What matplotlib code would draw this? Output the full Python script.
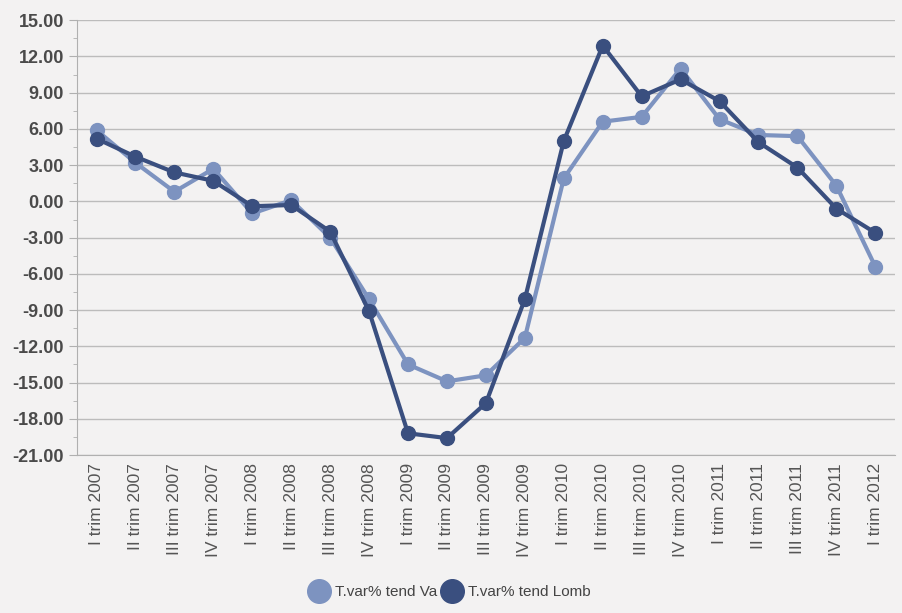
import numpy as np
import matplotlib
matplotlib.use('Agg')
import matplotlib.pyplot as plt
from matplotlib.ticker import MultipleLocator

labels = ['I trim 2007', 'II trim 2007', 'III trim 2007', 'IV trim 2007',
          'I trim 2008', 'II trim 2008', 'III trim 2008', 'IV trim 2008',
          'I trim 2009', 'II trim 2009', 'III trim 2009', 'IV trim 2009',
          'I trim 2010', 'II trim 2010', 'III trim 2010', 'IV trim 2010',
          'I trim 2011', 'II trim 2011', 'III trim 2011', 'IV trim 2011',
          'I trim 2012']
va = [5.9, 3.2, 0.8, 2.7, -1.0, 0.1, -3.0, -8.1, -13.5, -14.9, -14.4,
      -11.3, 1.9, 6.6, 7.0, 11.0, 6.8, 5.5, 5.4, 1.3, -5.4]
lomb = [5.2, 3.7, 2.4, 1.7, -0.4, -0.3, -2.5, -9.1, -19.2, -19.6, -16.7,
        -8.1, 5.0, 12.9, 8.7, 10.1, 8.3, 4.9, 2.8, -0.6, -2.6]

bg = '#f3f2f2'
c_va = '#7d93c0'
c_lomb = '#3a4f7f'

plt.rcParams['font.family'] = ['Liberation Sans', 'DejaVu Sans']

fig = plt.figure(figsize=(9.02, 6.13), dpi=100, facecolor=bg)
ax = fig.add_axes([0.0854, 0.2577, 0.9066, 0.7093])
ax.set_facecolor(bg)

x = np.arange(len(labels))
ax.plot(x, va, color=c_va, lw=3, marker='o', ms=10, label='T.var% tend Va', zorder=3)
ax.plot(x, lomb, color=c_lomb, lw=3, marker='o', ms=10, label='T.var% tend Lomb', zorder=4)

ax.set_xlim(-0.5, len(labels) - 0.5)
ax.set_ylim(-21, 15)
ax.yaxis.set_major_locator(MultipleLocator(3))
ax.yaxis.set_minor_locator(MultipleLocator(1.5))
ax.set_yticklabels(['%.2f' % v for v in ax.get_yticks()], fontweight='bold')
ax.grid(axis='y', color='#bcbcbc', lw=1)
ax.set_axisbelow(True)

ax.set_xticks(x)
ax.set_xticklabels(labels, rotation=90)
for s in ['top', 'right']:
    ax.spines[s].set_visible(False)
for s in ['left', 'bottom']:
    ax.spines[s].set_color('#b0b0b0')
ax.tick_params(axis='y', which='major', length=6, color='#b0b0b0', labelsize=13, labelcolor='#4a4a4a')
ax.tick_params(axis='y', which='minor', length=3, color='#b0b0b0')
ax.tick_params(axis='x', length=0, labelsize=12.5, labelcolor='#555555', pad=6)

leg = fig.legend(loc='lower center', bbox_to_anchor=(0.5, 0.0), ncol=2, frameon=False,
                 fontsize=11, handlelength=1.0, columnspacing=0.5, handletextpad=0.5,
                 markerscale=1.7)
for h in leg.legend_handles:
    h.set_linestyle('')
for t in leg.get_texts():
    t.set_color('#444444')

fig.savefig('out.png', dpi=100, facecolor=bg)
